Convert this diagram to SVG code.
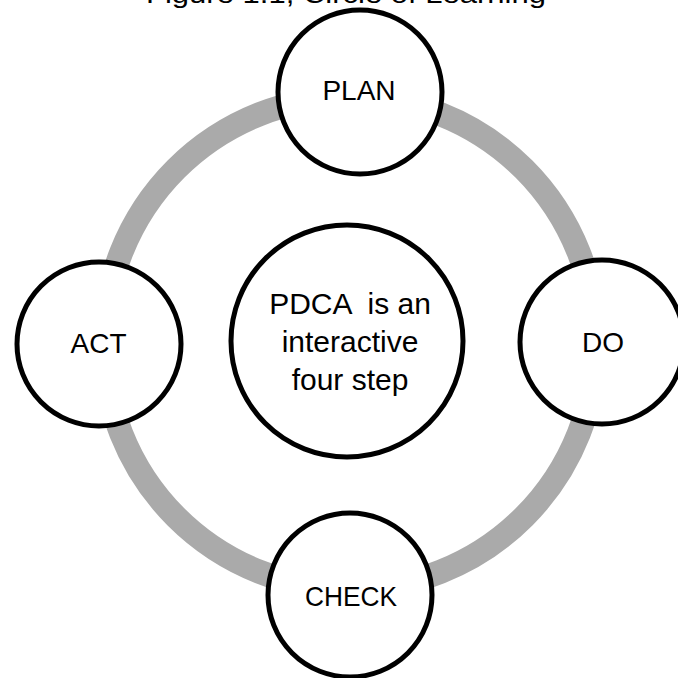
<svg xmlns="http://www.w3.org/2000/svg" width="678" height="678" viewBox="0 0 678 678">
<style>
.node{fill:#fff;stroke:#000;stroke-width:5}
.lbl{font-family:"Liberation Sans",Arial,sans-serif;font-size:28px;fill:#000;text-anchor:middle}
.ctr{font-family:"Liberation Sans",Arial,sans-serif;font-size:30px;fill:#000;text-anchor:middle}
.ring{fill:none;stroke:#aaaaaa;stroke-width:24}
</style>
<rect width="678" height="678" fill="#fff"/>
<text x="346" y="3" font-family="'Liberation Sans',Arial,sans-serif" font-size="26" text-anchor="middle" textLength="400" lengthAdjust="spacingAndGlyphs">Figure 1.1, Circle of Learning</text>
<g id="connectors">
<circle class="ring" cx="350" cy="343" r="246"/>
</g>
<g id="center">
<circle class="node" cx="347" cy="341" r="116"/>
<text class="ctr" xml:space="preserve" x="350" y="314">PDCA  is an</text>
<text class="ctr" x="350" y="352">interactive</text>
<text class="ctr" x="350" y="390">four step</text>
</g>
<g id="plan">
<circle class="node" cx="360" cy="92" r="82"/>
<text class="lbl" x="359" y="100">PLAN</text>
</g>
<g id="do">
<circle class="node" cx="602" cy="342" r="82"/>
<text class="lbl" x="603" y="352">DO</text>
</g>
<g id="check">
<circle class="node" cx="350" cy="595" r="82"/>
<text class="lbl" x="351" y="606" textLength="92" lengthAdjust="spacingAndGlyphs">CHECK</text>
</g>
<g id="act">
<circle class="node" cx="99" cy="344" r="82"/>
<text class="lbl" x="98.5" y="353">ACT</text>
</g>
</svg>
